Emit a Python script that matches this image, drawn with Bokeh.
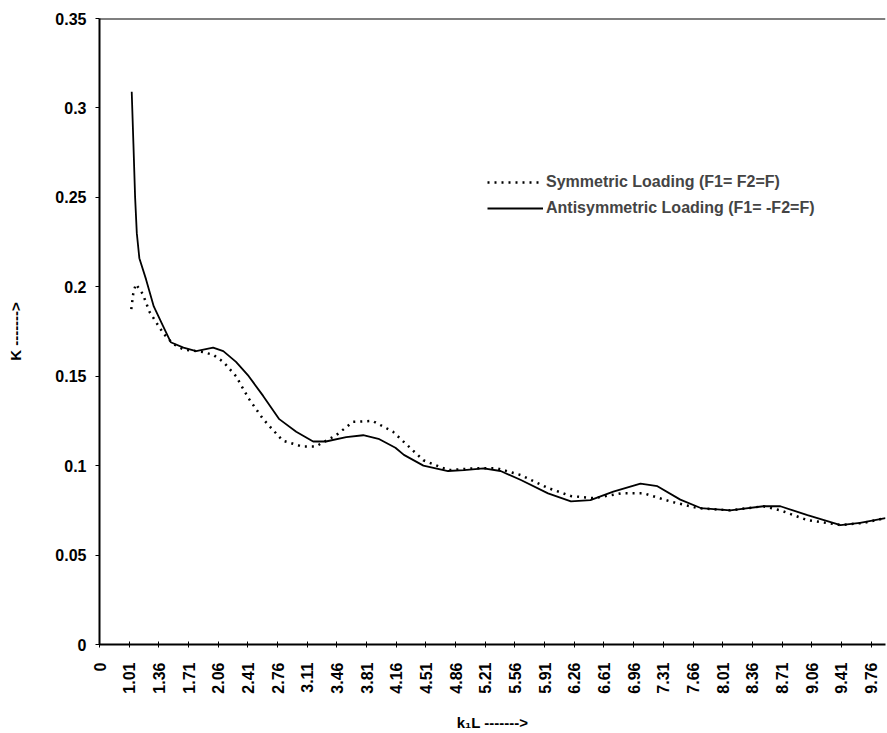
from bokeh.plotting import figure
from bokeh.models import FixedTicker, Legend, LegendItem, Range1d, Span
from bokeh.embed import file_html
from bokeh.resources import INLINE
import math

# ---- data ----
tick_labels = ["0", "1.01", "1.36", "1.71", "2.06", "2.41", "2.76", "3.11", "3.46", "3.81",
               "4.16", "4.51", "4.86", "5.21", "5.56", "5.91", "6.26", "6.61", "6.96", "7.31",
               "7.66", "8.01", "8.36", "8.71", "9.06", "9.41", "9.76"]

anti_k = [1.04, 1.06, 1.08, 1.10, 1.13, 1.21, 1.30, 1.41, 1.50, 1.65, 1.80, 2.00, 2.12, 2.27,
          2.42, 2.59, 2.78, 2.98, 3.18, 3.33, 3.57, 3.77, 3.95, 4.15, 4.25, 4.48, 4.77, 4.96,
          5.19, 5.39, 5.63, 5.95, 6.22, 6.45, 6.72, 7.04, 7.24, 7.51, 7.75, 8.10, 8.49, 8.69,
          9.01, 9.40, 9.63, 9.93]
anti_K = [0.309, 0.280, 0.250, 0.230, 0.216, 0.204, 0.189, 0.178, 0.169, 0.166, 0.164, 0.166,
          0.164, 0.158, 0.150, 0.139, 0.126, 0.119, 0.1135, 0.1135, 0.116, 0.117, 0.115, 0.110,
          0.106, 0.100, 0.097, 0.0975, 0.0985, 0.097, 0.092, 0.0845, 0.080, 0.0807, 0.0855,
          0.090, 0.0885, 0.081, 0.0763, 0.075, 0.0773, 0.0773, 0.0723, 0.0668, 0.068, 0.0707]

sym_k = [1.035, 1.06, 1.09, 1.17, 1.25, 1.33, 1.42, 1.53, 1.65, 1.88, 2.00, 2.12, 2.27, 2.42,
         2.59, 2.82, 3.05, 3.21, 3.45, 3.65, 3.88, 4.12, 4.21, 4.48, 4.77, 5.07, 5.35, 5.63,
         5.95, 6.22, 6.49, 6.81, 7.08, 7.39, 7.71, 8.10, 8.49, 8.69, 9.01, 9.40, 9.67, 9.93]
sym_K = [0.1875, 0.197, 0.2015, 0.196, 0.186, 0.180, 0.1735, 0.168, 0.165, 0.1635, 0.162,
         0.158, 0.150, 0.1375, 0.126, 0.114, 0.1107, 0.1107, 0.117, 0.1245, 0.125, 0.119,
         0.115, 0.103, 0.0975, 0.0985, 0.0985, 0.0947, 0.0875, 0.083, 0.0818, 0.0845, 0.0845,
         0.080, 0.0763, 0.075, 0.0773, 0.075, 0.0695, 0.0668, 0.068, 0.0707]

y_ticks = [0, 0.05, 0.1, 0.15, 0.2, 0.25, 0.3, 0.35]
y_tick_labels = ["0", "0.05", "0.1", "0.15", "0.2", "0.25", "0.3", "0.35"]
x_start, x_end = 0.66, 9.93

FONT = "Liberation Sans"

p = figure(width=887, height=733, output_backend="svg", toolbar_location=None,
           x_range=Range1d(x_start, x_end), y_range=Range1d(0, 0.35),
           min_border_left=99, min_border_right=2, min_border_top=18, min_border_bottom=86)
p.outline_line_color = None
p.grid.visible = False
p.background_fill_color = "white"
p.border_fill_color = "white"

# x axis (category-like labels)
x_ticks = [x_start] + [float(s) for s in tick_labels[1:]]
p.xaxis.ticker = FixedTicker(ticks=x_ticks)
p.xaxis.major_label_overrides = {t: s for t, s in zip(x_ticks, tick_labels)}
p.xaxis.major_label_orientation = math.pi / 2
p.xaxis.minor_tick_line_color = None
p.xaxis.major_tick_in = 3
p.xaxis.major_tick_out = 3
p.xaxis.axis_line_width = 2
p.xaxis.axis_label = "k\u2081L ------->"
p.xaxis.major_label_standoff = 15
p.xaxis.axis_label_standoff = 17

p.yaxis.ticker = FixedTicker(ticks=y_ticks)
p.yaxis.major_label_overrides = dict(zip(y_ticks, y_tick_labels))
p.yaxis.minor_tick_line_color = None
p.yaxis.major_tick_in = 0
p.yaxis.major_tick_out = 4
p.yaxis.axis_line_width = 2
p.yaxis.axis_label = "K ------->"
p.yaxis.major_label_standoff = 9
p.yaxis.axis_label_standoff = 28

for ax in (p.xaxis[0], p.yaxis[0]):
    ax.major_label_text_font = FONT
    ax.major_label_text_font_style = "bold"
    ax.major_label_text_font_size = "16px"
    ax.major_label_text_color = "black"
    ax.axis_label_text_font = FONT
    ax.axis_label_text_font_style = "bold"
    ax.axis_label_text_font_size = "15px"
    ax.axis_label_text_color = "black"
    ax.axis_line_color = "black"
    ax.major_tick_line_color = "black"

p.add_layout(Span(location=0.35, dimension="width", line_color="black", line_width=2))

r_sym = p.line(sym_k, sym_K, line_color="black", line_width=2.5, line_dash="2 5")
r_anti = p.line(anti_k, anti_K, line_color="black", line_width=1.8)

legend = Legend(items=[LegendItem(label="Symmetric Loading (F1= F2=F)", renderers=[r_sym]),
                       LegendItem(label="Antisymmetric Loading (F1= -F2=F)", renderers=[r_anti])],
                location=(388, 425), border_line_color=None, background_fill_alpha=0,
                label_text_font=FONT, label_text_font_style="bold", label_text_font_size="16px",
                glyph_width=56, glyph_height=22, label_height=22, spacing=4, padding=0,
                margin=0, label_standoff=3)
p.add_layout(legend)

open("out.html", "w").write(file_html(p, INLINE))
